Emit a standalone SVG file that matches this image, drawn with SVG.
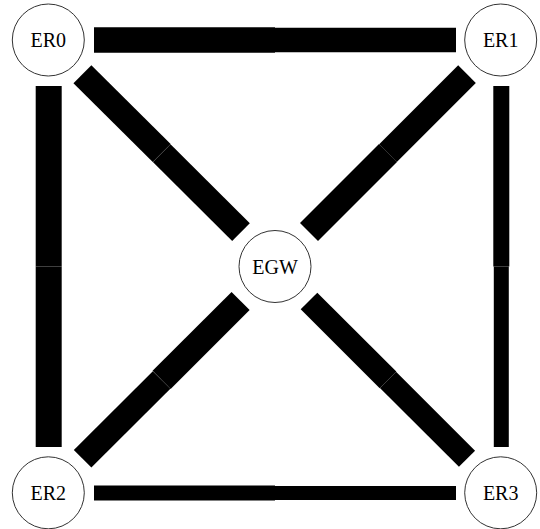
<svg xmlns="http://www.w3.org/2000/svg" width="540" height="529" viewBox="0 0 540 529">
<style>
.node circle{fill:#fff;stroke:#333;stroke-width:1}
.node text{font-family:"Liberation Serif","Times New Roman",serif;font-size:20px;fill:#000;text-anchor:middle}
.edge line{stroke:#000;stroke-linecap:butt}
</style>
<rect width="540" height="529" fill="#fff"/>
<g id="edges" class="edge">
<line x1="94" y1="40" x2="275" y2="40" stroke-width="25.4"/>
<line x1="275" y1="40" x2="456" y2="40" stroke-width="24.6"/>
<line x1="94" y1="493" x2="275" y2="493" stroke-width="15"/>
<line x1="275" y1="493" x2="456" y2="493" stroke-width="14"/>
<line x1="48.7" y1="86" x2="48.7" y2="266.5" stroke-width="26"/>
<line x1="48.7" y1="266.5" x2="48.7" y2="447" stroke-width="26"/>
<line x1="501.3" y1="86" x2="501.3" y2="266.5" stroke-width="16"/>
<line x1="501.3" y1="266.5" x2="501.3" y2="447" stroke-width="15"/>
<line x1="82.4" y1="74.2" x2="161.7" y2="153.1" stroke-width="25.4"/>
<line x1="161.7" y1="153.1" x2="241" y2="232.1" stroke-width="25"/>
<line x1="467" y1="74.2" x2="388" y2="153.1" stroke-width="25"/>
<line x1="388" y1="153.1" x2="309" y2="232.1" stroke-width="25.4"/>
<line x1="240.6" y1="301" x2="161.6" y2="379.9" stroke-width="25.6"/>
<line x1="161.6" y1="379.9" x2="82.6" y2="458.8" stroke-width="24.8"/>
<line x1="309" y1="301" x2="388" y2="379.9" stroke-width="23.5"/>
<line x1="388" y1="379.9" x2="467" y2="458.8" stroke-width="22.8"/>
</g>
<g id="ER0" class="node"><circle cx="48.3" cy="40" r="36"/><text x="48.3" y="47.3">ER0</text></g>
<g id="ER1" class="node"><circle cx="500.7" cy="40" r="36"/><text x="500.7" y="47.3">ER1</text></g>
<g id="ER2" class="node"><circle cx="48.3" cy="492.8" r="36"/><text x="48.3" y="500.1">ER2</text></g>
<g id="ER3" class="node"><circle cx="500.7" cy="492.8" r="36"/><text x="500.7" y="500.1">ER3</text></g>
<g id="EGW" class="node"><circle cx="275" cy="266.5" r="36"/><text x="275" y="273.8">EGW</text></g>
</svg>
